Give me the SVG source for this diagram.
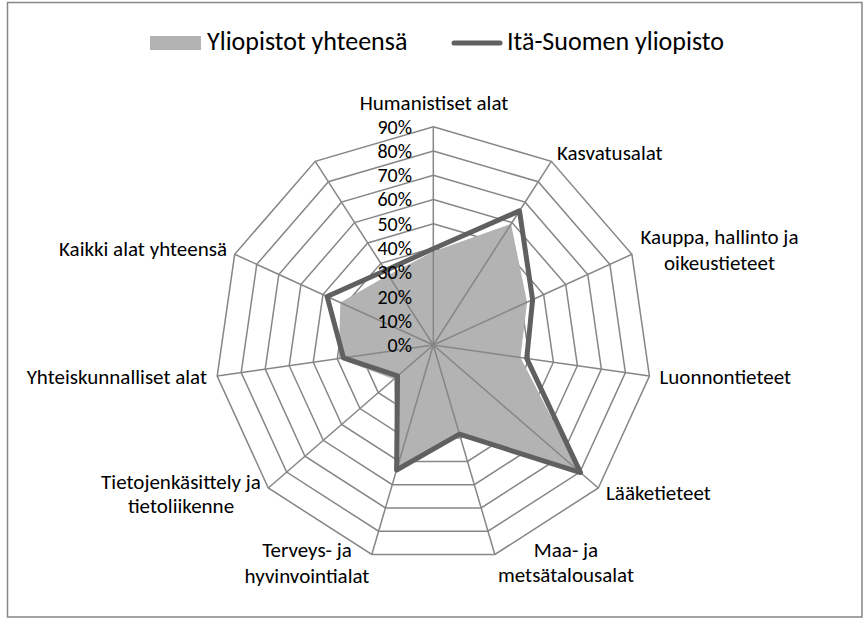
<svg xmlns="http://www.w3.org/2000/svg" width="867" height="624" viewBox="0 0 867 624">
<style>
text{font-family:Carlito,Lato,"Open Sans",sans-serif;fill:#000}
.lbl{font-size:21px}
.tick{font-size:20px;text-anchor:end}
.leg{font-size:26px}
.ring{fill:none;stroke:#868686;stroke-width:1.5}
.spoke{stroke:#868686;stroke-width:1.5}
.mid{text-anchor:middle}
.end{text-anchor:end}
</style>
<rect x="0" y="0" width="867" height="624" fill="#fff"/>
<rect id="frame" x="7.5" y="2.5" width="854.5" height="614.5" fill="#fff" stroke="#868686" stroke-width="1.5"/>

<g id="legend">
  <rect x="150" y="36" width="51" height="14" fill="#b3b3b3"/>
  <text class="leg" x="207" y="50">Yliopistot yhteensä</text>
  <line x1="454" y1="43" x2="500" y2="43" stroke="#606060" stroke-width="5" stroke-linecap="round"/>
  <text class="leg" x="507" y="50">Itä-Suomen yliopisto</text>
</g>

<g id="rings" transform="translate(433.3 345)">
  <polygon class="ring" points="0,-24.26 13.12,-20.41 22.07,-10.08 24.01,3.45 18.34,15.89 6.84,23.28 -6.84,23.28 -18.34,15.89 -24.01,3.45 -22.07,-10.08 -13.12,-20.41"/>
  <polygon class="ring" points="0,-48.52 26.23,-40.82 44.14,-20.16 48.03,6.90 36.67,31.77 13.67,46.55 -13.67,46.55 -36.67,31.77 -48.03,6.90 -44.14,-20.16 -26.23,-40.82"/>
  <polygon class="ring" points="0,-72.78 39.35,-61.23 66.20,-30.23 72.04,10.36 55.01,47.66 20.51,69.83 -20.51,69.83 -55.01,47.66 -72.04,10.36 -66.20,-30.23 -39.35,-61.23"/>
  <polygon class="ring" points="0,-97.04 52.46,-81.64 88.27,-40.31 96.05,13.81 73.34,63.55 27.34,93.11 -27.34,93.11 -73.34,63.55 -96.05,13.81 -88.27,-40.31 -52.46,-81.64"/>
  <polygon class="ring" points="0,-121.30 65.58,-102.05 110.34,-50.39 120.07,17.26 91.68,79.44 34.18,116.39 -34.18,116.39 -91.68,79.44 -120.07,17.26 -110.34,-50.39 -65.58,-102.05"/>
  <polygon class="ring" points="0,-145.56 78.70,-122.45 132.41,-60.47 144.08,20.71 110.01,95.32 41.01,139.66 -41.01,139.66 -110.01,95.32 -144.08,20.71 -132.41,-60.47 -78.70,-122.45"/>
  <polygon class="ring" points="0,-169.82 91.81,-142.86 154.47,-70.55 168.09,24.17 128.35,111.21 47.85,162.94 -47.85,162.94 -128.35,111.21 -168.09,24.17 -154.47,-70.55 -91.81,-142.86"/>
  <polygon class="ring" points="0,-194.08 104.93,-163.27 176.54,-80.62 192.10,27.62 146.68,127.10 54.68,186.22 -54.68,186.22 -146.68,127.10 -192.10,27.62 -176.54,-80.62 -104.93,-163.27"/>
  <polygon class="ring" points="0,-218.34 118.04,-183.68 198.61,-90.70 216.12,31.07 165.01,142.98 61.52,209.49 -61.52,209.49 -165.01,142.98 -216.12,31.07 -198.61,-90.70 -118.04,-183.68"/>
</g>

<g id="series-yliopistot">
  <polygon fill="#b3b3b3" points="433.3,251.60 511.08,223.98 527.09,302.17 520.47,357.53 579.61,471.77 460.16,436.48 396.39,470.69 393.88,379.16 338.69,358.60 340.40,302.57 388.31,275.00"/>
</g>

<g id="spokes" transform="translate(433.3 345)">
  <line class="spoke" x1="0" y1="0" x2="0" y2="-218.34"/>
  <line class="spoke" x1="0" y1="0" x2="118.04" y2="-183.68"/>
  <line class="spoke" x1="0" y1="0" x2="198.61" y2="-90.70"/>
  <line class="spoke" x1="0" y1="0" x2="216.12" y2="31.07"/>
  <line class="spoke" x1="0" y1="0" x2="165.01" y2="142.98"/>
  <line class="spoke" x1="0" y1="0" x2="61.52" y2="209.49"/>
  <line class="spoke" x1="0" y1="0" x2="-61.52" y2="209.49"/>
  <line class="spoke" x1="0" y1="0" x2="-165.01" y2="142.98"/>
  <line class="spoke" x1="0" y1="0" x2="-216.12" y2="31.07"/>
  <line class="spoke" x1="0" y1="0" x2="-198.61" y2="-90.70"/>
  <line class="spoke" x1="0" y1="0" x2="-118.04" y2="-183.68"/>
</g>

<g id="series-ita-suomi">
  <polygon fill="none" stroke="#606060" stroke-width="5" stroke-linejoin="round" points="433.3,248.69 519.47,210.91 532.60,299.65 526.71,358.43 580.53,472.57 459.48,434.15 396.60,470.00 397.55,375.98 343.49,357.91 327.16,296.52 385.43,270.51"/>
</g>

<g id="ticks">
  <text class="tick" x="412" y="352">0%</text>
  <text class="tick" x="412" y="327.7">10%</text>
  <text class="tick" x="412" y="303.5">20%</text>
  <text class="tick" x="412" y="279.2">30%</text>
  <text class="tick" x="412" y="255">40%</text>
  <text class="tick" x="412" y="230.7">50%</text>
  <text class="tick" x="412" y="206.4">60%</text>
  <text class="tick" x="412" y="182.2">70%</text>
  <text class="tick" x="412" y="157.9">80%</text>
  <text class="tick" x="412" y="133.7">90%</text>
</g>

<g id="labels">
  <text class="lbl mid" x="434" y="110">Humanistiset alat</text>
  <text class="lbl" x="557" y="160">Kasvatusalat</text>
  <text class="lbl mid" x="719.5" y="244">Kauppa, hallinto ja</text>
  <text class="lbl mid" x="719.5" y="270">oikeustieteet</text>
  <text class="lbl" x="659.5" y="383.5">Luonnontieteet</text>
  <text class="lbl" x="606" y="500">Lääketieteet</text>
  <text class="lbl mid" x="566" y="557">Maa- ja</text>
  <text class="lbl mid" x="566" y="582">metsätalousalat</text>
  <text class="lbl mid" x="307" y="557">Terveys- ja</text>
  <text class="lbl mid" x="307" y="583">hyvinvointialat</text>
  <text class="lbl mid" x="181" y="488.5">Tietojenkäsittely ja</text>
  <text class="lbl mid" x="181" y="513">tietoliikenne</text>
  <text class="lbl end" x="207" y="383.5">Yhteiskunnalliset alat</text>
  <text class="lbl end" x="227" y="256">Kaikki alat yhteensä</text>
</g>
</svg>
